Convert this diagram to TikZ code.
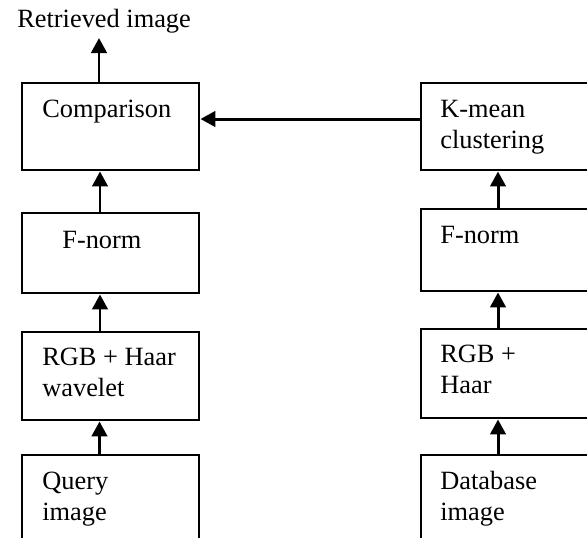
\documentclass[tikz,border=0pt]{standalone}
\usepackage{fontspec}
\setmainfont{Liberation Serif}
\usetikzlibrary{positioning, arrows.meta}

\begin{document}
\begin{tikzpicture}[
    x=0.2mm, y=-0.2mm,
    every node/.style={font=\fontsize{15}{17.1}\selectfont},
    box/.style={draw, line width=1.4pt, anchor=north west, minimum width=35.4mm, inner sep=0},
    txt/.style={anchor=base west, align=left, inner sep=0},
    arr/.style={-{Triangle[width=3.1mm, length=3mm]}, line width=1.7pt}
]
\useasboundingbox (0,0) rectangle (587,537);
\clip (0,0) rectangle (587,537);

% query side
\node[box, minimum height=17.4mm] (cmp) at (21,82) {};
\node[box, minimum height=16mm] (fnq) at (21,212) {};
\node[box, minimum height=17.6mm] (rgbq) at (21,331) {};
\node[box, minimum height=22mm] (qry) at (21,454) {};

% database side
\node[box, minimum height=17.4mm] (km) at (420,82) {};
\node[box, minimum height=16.4mm] (fnd) at (420,208) {};
\node[box, minimum height=17.8mm] (rgbd) at (420,328) {};
\node[box, minimum height=22mm] (db) at (420,454) {};

% labels (base of a two-line node is its second line)
\node[txt] (res) at (17,27) {Retrieved image};
\node[txt, below right=7mm and 4.2mm of cmp.north west, anchor=base west] (cmpt) {Comparison};
\node[txt, below right=7.2mm and 8.2mm of fnq.north west, anchor=base west] (fnqt) {F-norm};
\node[txt, below right=13mm and 4.2mm of rgbq.north west, anchor=base west] (rgbqt) {RGB + Haar\\wavelet};
\node[txt, below right=13.2mm and 4.2mm of qry.north west, anchor=base west] (qryt) {Query\\image};
\node[txt, below right=13.2mm and 4mm of km.north west, anchor=base west] (kmt) {K-mean\\clustering};
\node[txt, below right=7mm and 4mm of fnd.north west, anchor=base west] (fndt) {F-norm};
\node[txt, below right=13mm and 4mm of rgbd.north west, anchor=base west] (rgbdt) {RGB +\\Haar};
\node[txt, below right=13.2mm and 4mm of db.north west, anchor=base west] (dbt) {Database\\image};

% flow
\draw[arr] ([xshift=15.7mm]qry.north west) -- ([xshift=15.7mm]rgbq.south west);
\draw[arr] ([xshift=15.8mm]rgbq.north west) -- ([xshift=15.8mm]fnq.south west);
\draw[arr] ([xshift=15.8mm]fnq.north west) -- ([xshift=15.8mm]cmp.south west);
\draw[arr] ([xshift=15.6mm]cmp.north west) -- ([xshift=16.4mm, yshift=-2.2mm]res.base west);
\draw[arr] ([xshift=15.6mm]db.north west) -- ([xshift=15.6mm]rgbd.south west);
\draw[arr] ([xshift=15.6mm]rgbd.north west) -- ([xshift=15.6mm]fnd.south west);
\draw[arr] ([xshift=15.6mm]fnd.north west) -- ([xshift=15.6mm]km.south west);
\draw[arr] ([yshift=-7.4mm]km.north west) -- ([yshift=-7.4mm]cmp.north east);
\end{tikzpicture}
\end{document}
